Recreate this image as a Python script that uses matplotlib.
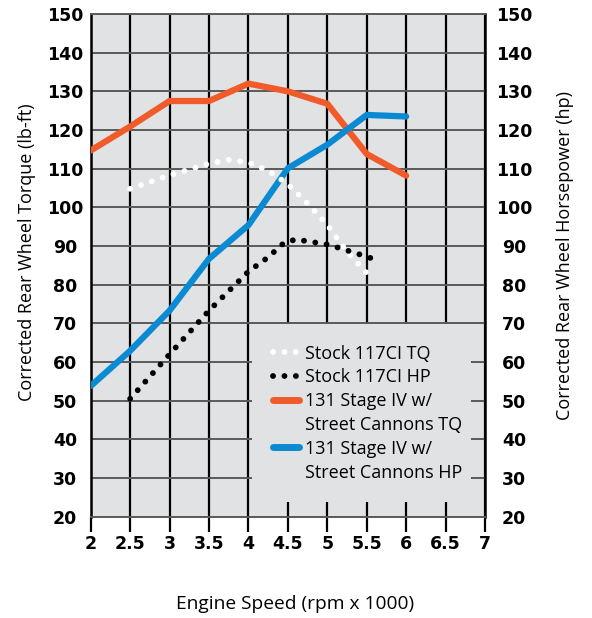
#Dyno chart - stock 117CI vs 131 Stage IV w/ Street Cannons

import numpy as np
import matplotlib
matplotlib.use("Agg")
import matplotlib.pyplot as plt
from matplotlib.lines import Line2D

# Data (rpm x 1000)
stock_tq_rpm = [2.5, 3.0, 3.5, 3.75, 4.0, 4.25, 4.5, 4.75, 5.0, 5.25, 5.5]
stock_tq = [104.8, 108.3, 111.3, 112.3, 111.6, 109.5, 106.0, 101.0, 95.5, 88.5, 83.0]

stock_hp_rpm = [2.5, 3.0, 3.5, 4.0, 4.25, 4.45, 4.6, 4.85, 5.0, 5.15, 5.4, 5.55]
stock_hp = [50.5, 62.0, 73.3, 83.4, 87.1, 90.8, 91.7, 90.9, 90.4, 89.5, 87.9, 86.9]

stage4_rpm = [2.0, 2.5, 3.0, 3.5, 4.0, 4.5, 5.0, 5.5, 6.0]
stage4_tq = [114.7, 120.9, 127.5, 127.5, 132.0, 130.0, 126.8, 113.8, 108.2]
stage4_hp = [53.8, 62.9, 73.3, 86.7, 95.4, 110.1, 116.2, 123.9, 123.5]

x_ticks = [2, 2.5, 3, 3.5, 4, 4.5, 5, 5.5, 6, 6.5, 7]
x_tick_labels = ["2", "2.5", "3", "3.5", "4", "4.5", "5", "5.5", "6", "6.5", "7"]
y_ticks = list(range(20, 151, 10))

bg = "#E1E2E4"
orange = "#F15A29"
blue = "#0B8AD4"
label_font = "Open Sans"

fig = plt.figure(figsize=(5.92, 6.18), dpi=100)
ax = fig.add_axes([90.7 / 592, 1 - 516.7 / 618, (485 - 90.7) / 592, (516.7 - 14) / 618])
ax.set_facecolor(bg)
ax.set_xlim(2, 7)
ax.set_ylim(20, 150)

# grid: black verticals, grey horizontals
ax.set_xticks(x_ticks)
ax.set_xticklabels(x_tick_labels)
ax.set_yticks(y_ticks)
ax.set_axisbelow(True)
ax.xaxis.grid(True, color="black", linewidth=1.6)
ax.yaxis.grid(True, color="#5a5a5a", linewidth=1.4)

for side in ["left", "right"]:
    ax.spines[side].set_color("black")
    ax.spines[side].set_linewidth(1.8)
for side in ["top", "bottom"]:
    ax.spines[side].set_color("#5a5a5a")
    ax.spines[side].set_linewidth(1.4)

ax.tick_params(axis="x", direction="out", length=11, width=1.6, color="black", pad=2)
ax.tick_params(axis="y", length=0, pad=18.5)
for lab in ax.get_xticklabels():
    lab.set_fontweight("bold")
    lab.set_fontsize(12.5)
for lab in ax.get_yticklabels():
    lab.set_fontweight("bold")
    lab.set_fontsize(12.5)
    lab.set_horizontalalignment("center")

ax2 = ax.twinx()
ax2.set_ylim(20, 150)
ax2.set_yticks(y_ticks)
ax2.tick_params(axis="y", length=0, pad=21)
for lab in ax2.get_yticklabels():
    lab.set_fontweight("bold")
    lab.set_fontsize(12.5)
    lab.set_horizontalalignment("center")
for s in ax2.spines.values():
    s.set_visible(False)

# the curves
dots = (0, (0.01, 1.95))
ax.plot(stage4_rpm, stage4_tq, color=orange, linewidth=4.5, solid_capstyle="round", zorder=3)
ax.plot(stage4_rpm, stage4_hp, color=blue, linewidth=4.5, solid_capstyle="round", zorder=3)
ax.plot(stock_tq_rpm, stock_tq, color="white", linewidth=4.2, linestyle=dots,
        dash_capstyle="round", zorder=4)
ax.plot(stock_hp_rpm, stock_hp, color="black", linewidth=4.2, linestyle=dots,
        dash_capstyle="round", zorder=4)

# legend: second line of the two-line labels gets an empty handle
handles = [
    Line2D([], [], color="white", linewidth=4.2, linestyle=dots, dash_capstyle="round"),
    Line2D([], [], color="black", linewidth=4.2, linestyle=dots, dash_capstyle="round"),
    Line2D([], [], color=orange, linewidth=5, solid_capstyle="round"),
    Line2D([], [], color="none"),
    Line2D([], [], color=blue, linewidth=5, solid_capstyle="round"),
    Line2D([], [], color="none"),
]
labels = ["Stock 117CI TQ", "Stock 117CI HP", "131 Stage IV w/", "Street Cannons TQ",
          "131 Stage IV w/", "Street Cannons HP"]
leg = ax.legend(handles, labels, loc="lower left", bbox_to_anchor=(0.41, 0.029, 0.555, 0.36),
                mode="expand", facecolor=bg, edgecolor="none", framealpha=1, fancybox=False,
                handlelength=1.45, handletextpad=0.3, labelspacing=0.32, borderpad=1.14,
                borderaxespad=0, prop={"family": label_font, "size": 13})
leg.set_zorder(5)

fig.text(295 / 592, 1 - 604 / 618, "Engine Speed (rpm x 1000)", ha="center", va="center",
         family=label_font, fontsize=13.8)
fig.text(27 / 592, 1 - 252 / 618, "Corrected Rear Wheel Torque (lb-ft)", ha="center",
         va="center", rotation=90, family=label_font, fontsize=13)
fig.text(565 / 592, 1 - 255 / 618, "Corrected Rear Wheel Horsepower (hp)", ha="center",
         va="center", rotation=90, family=label_font, fontsize=13)

fig.savefig("out.png", dpi=100, facecolor="white")
